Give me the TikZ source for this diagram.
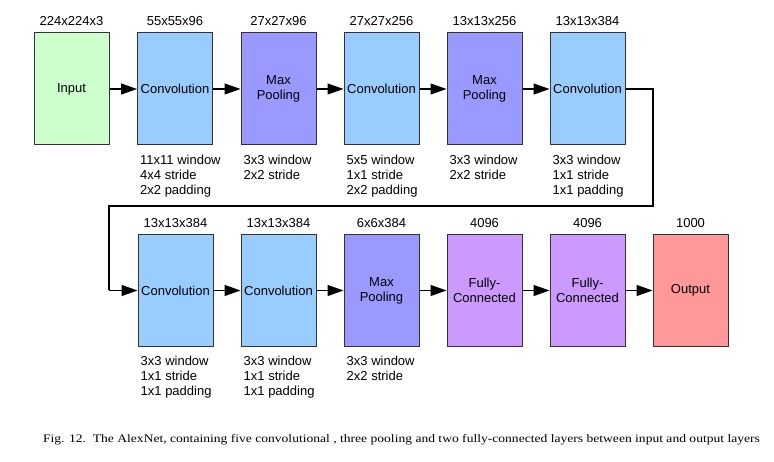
\documentclass[tikz,border=0pt]{standalone}
\usepackage{fontspec}
\setmainfont{Liberation Serif}
\newfontfamily\arialf{Liberation Sans}
\usetikzlibrary{arrows.meta}
\definecolor{inputc}{HTML}{CCFFCC}
\definecolor{convc}{HTML}{99CCFF}
\definecolor{poolc}{HTML}{9999FF}
\definecolor{fcc}{HTML}{CC99FF}
\definecolor{outc}{HTML}{FF9999}
\definecolor{edgec}{HTML}{333333}
\begin{document}
\begin{tikzpicture}[x=1pt,y=1pt,
  layer/.style={draw=edgec, line width=1pt, minimum width=75pt, minimum height=112pt, inner sep=0pt,
    font=\arialf\fontsize{13}{15}\selectfont, align=center},
  dimlabel/.style={font=\arialf\fontsize{13}{15}\selectfont, inner sep=0pt},
  info/.style={font=\arialf\fontsize{13}{15}\selectfont, align=left, anchor=north west, inner sep=0pt},
  conn/.style={draw=black, line width=1.2pt, -{Triangle[length=16pt,width=11pt]}},
  wire/.style={draw=black, line width=1.2pt}
]
\useasboundingbox (0,0) rectangle (774,-462);
% top row
\node[layer, fill=inputc] (t1) at (71.5,-89) {Input};
\node[layer, fill=convc] (t2) at (175,-89) {Convolution};
\node[layer, fill=poolc] (t3) at (278.5,-89) {Max\\Pooling};
\node[layer, fill=convc] (t4) at (381.5,-89) {Convolution};
\node[layer, fill=poolc] (t5) at (484.5,-89) {Max\\Pooling};
\node[layer, fill=convc] (t6) at (587.5,-89) {Convolution};
% bottom row
\node[layer, fill=convc] (b1) at (175.5,-290.5) {Convolution};
\node[layer, fill=convc] (b2) at (278.5,-290.5) {Convolution};
\node[layer, fill=poolc] (b3) at (381.5,-290.5) {Max\\Pooling};
\node[layer, fill=fcc] (b4) at (484.5,-290.5) {Fully-\\Connected};
\node[layer, fill=fcc] (b5) at (587.5,-290.5) {Fully-\\Connected};
\node[layer, fill=outc] (b6) at (690.5,-290.5) {Output};
% dimension labels
\foreach \n/\t in {t1/224x224x3, t2/55x55x96, t3/27x27x96, t4/27x27x256, t5/13x13x256, t6/13x13x384,
                   b1/13x13x384, b2/13x13x384, b3/6x6x384, b4/4096, b5/4096, b6/1000}
  \node[dimlabel] (l\n) at ([yshift=11pt]\n.north) {\t};
% info texts
\node[info] (it2) at ([xshift=3pt,yshift=-9pt]t2.south west) {11x11 window\\4x4 stride\\2x2 padding};
\node[info] (it3) at ([xshift=3pt,yshift=-9pt]t3.south west) {3x3 window\\2x2 stride};
\node[info] (it4) at ([xshift=3pt,yshift=-9pt]t4.south west) {5x5 window\\1x1 stride\\2x2 padding};
\node[info] (it5) at ([xshift=3pt,yshift=-9pt]t5.south west) {3x3 window\\2x2 stride};
\node[info] (it6) at ([xshift=3pt,yshift=-9pt]t6.south west) {3x3 window\\1x1 stride\\1x1 padding};
\node[info] (ib1) at ([xshift=3pt,yshift=-9pt]b1.south west) {3x3 window\\1x1 stride\\1x1 padding};
\node[info] (ib2) at ([xshift=3pt,yshift=-9pt]b2.south west) {3x3 window\\1x1 stride\\1x1 padding};
\node[info] (ib3) at ([xshift=3pt,yshift=-9pt]b3.south west) {3x3 window\\2x2 stride};
% connectors
\draw[conn] (t1) -- (t2);
\draw[conn] (t2) -- (t3);
\draw[conn] (t3) -- (t4);
\draw[conn] (t4) -- (t5);
\draw[conn] (t5) -- (t6);
\coordinate (w1) at (653,-89);
\coordinate (w2) at (653,-206);
\coordinate (w3) at (109,-206);
\coordinate (w4) at (109,-290.5);
\draw[wire] (t6.east) -- (w1) -- (w2) -- (w3) -- (w4);
\draw[conn] (w4) -- (b1.west);
\draw[conn] (b1) -- (b2);
\draw[conn] (b2) -- (b3);
\draw[conn] (b3) -- (b4);
\draw[conn] (b4) -- (b5);
\draw[conn] (b5) -- (b6);
% caption
\node[font=\fontsize{11.5}{13}\selectfont, inner sep=0pt] (cap) at (401.5,-440) {\scalebox{1.18}[1]{Fig. 12.\ \ The AlexNet, containing five convolutional , three pooling and two fully-connected layers between input and output layers}};
\end{tikzpicture}
\end{document}
